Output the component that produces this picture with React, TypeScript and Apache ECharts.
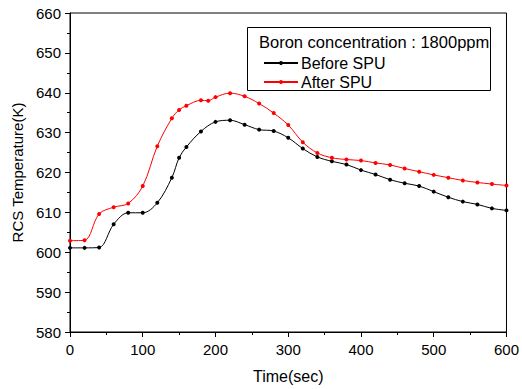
import React, { useEffect, useRef } from "react";
import * as echarts from "echarts";

const beforeTime = [0, 20, 40, 60, 80, 100, 120, 140, 150, 160, 180, 200, 220, 240, 260, 280, 300, 320, 340, 360, 380, 400, 420, 440, 460, 480, 500, 520, 540, 560, 580, 600];
const beforeTemp = [601.1, 601.1, 601.2, 607.0, 609.9, 609.9, 612.4, 618.7, 623.7, 626.4, 630.3, 632.7, 633.1, 632.0, 630.75, 630.4, 628.7, 626.0, 623.9, 622.8, 622.0, 620.6, 619.5, 618.2, 617.3, 616.6, 615.2, 613.8, 612.7, 612.0, 611.0, 610.5];

const afterTime = [0, 20, 40, 60, 80, 100, 120, 140, 150, 160, 180, 190, 200, 220, 240, 260, 280, 300, 320, 340, 360, 380, 400, 420, 440, 460, 480, 500, 520, 540, 560, 580, 600];
const afterTemp = [602.9, 603.0, 609.6, 611.3, 612.25, 616.6, 626.6, 633.6, 635.7, 636.75, 638.1, 638.0, 638.9, 639.9, 639.1, 637.3, 634.9, 631.9, 627.6, 624.9, 623.7, 623.25, 623.0, 622.4, 621.9, 621.0, 620.2, 619.4, 618.7, 618.0, 617.5, 617.1, 616.75];

const legendTitle = "Boron concentration : 1800ppm";
const seriesNames = ["Before SPU", "After SPU"];
const xTitle = "Time(sec)";
const yTitle = "RCS Temperature(K)";

const FONT = "'Liberation Sans', Arial, sans-serif";

export default function App() {
  const ref = useRef<HTMLDivElement>(null);
  useEffect(() => {
    if (!ref.current) return;
    const chart = echarts.init(ref.current, null, { renderer: "svg" });
    const pair = (t: number[], v: number[]) => t.map((x, i) => [x, v[i]]);
    chart.setOption({
      animation: false,
      backgroundColor: "#fff",
      grid: {
        left: 70,
        right: 15,
        top: 13,
        bottom: 56,
        show: true,
        borderColor: "#000",
        borderWidth: 1,
        containLabel: false,
      },
      xAxis: {
        type: "value",
        min: 0,
        max: 600,
        interval: 100,
        name: xTitle,
        nameLocation: "middle",
        nameGap: 36,
        nameTextStyle: { fontFamily: FONT, fontSize: 16, color: "#000" },
        axisLine: { show: true, lineStyle: { color: "#000", width: 1 } },
        axisTick: { show: true, inside: false, length: 5, lineStyle: { color: "#000" } },
        minorTick: { show: true, splitNumber: 2, length: 3, lineStyle: { color: "#000" } },
        splitLine: { show: false },
        axisLabel: { fontFamily: FONT, fontSize: 15, color: "#000", margin: 10 },
      },
      yAxis: {
        type: "value",
        min: 580,
        max: 660,
        interval: 10,
        name: yTitle,
        nameLocation: "middle",
        nameGap: 42,
        nameTextStyle: { fontFamily: FONT, fontSize: 15, color: "#000" },
        axisLine: { show: true, lineStyle: { color: "#000", width: 1 } },
        axisTick: { show: true, inside: false, length: 5, lineStyle: { color: "#000" } },
        minorTick: { show: true, splitNumber: 2, length: 3, lineStyle: { color: "#000" } },
        splitLine: { show: false },
        axisLabel: { fontFamily: FONT, fontSize: 15, color: "#000", margin: 9 },
      },
      legend: {
        orient: "vertical",
        left: 258,
        top: 50,
        itemWidth: 34,
        itemHeight: 5,
        itemGap: 3,
        data: seriesNames,
        textStyle: { fontFamily: FONT, fontSize: 16, color: "#000", padding: [0, 0, 0, -2] },
      },
      graphic: [
        {
          type: "rect",
          shape: { x: 247.5, y: 27.5, width: 243, height: 63 },
          style: { fill: "#fff", stroke: "#000", lineWidth: 1 },
          z: 0,
          zlevel: 0,
        },
        {
          type: "text",
          x: 259,
          y: 42,
          style: { text: legendTitle, fontFamily: FONT, fontSize: 16.5, fill: "#000", textVerticalAlign: "middle" },
          z: 10,
        },
      ],
      series: [
        {
          name: seriesNames[0],
          type: "line",
          data: pair(beforeTime, beforeTemp),
          smooth: 0.35,
          symbol: "circle",
          symbolSize: 4,
          itemStyle: { color: "#000" },
          lineStyle: { color: "#000", width: 1 },
        },
        {
          name: seriesNames[1],
          type: "line",
          data: pair(afterTime, afterTemp),
          smooth: 0.35,
          symbol: "circle",
          symbolSize: 4,
          itemStyle: { color: "#ff0000" },
          lineStyle: { color: "#ff0000", width: 1 },
        },
      ],
    });
    return () => chart.dispose();
  }, []);
  return <div ref={ref} style={{ width: 522, height: 389, position: "absolute", left: 0, top: 0 }} />;
}
